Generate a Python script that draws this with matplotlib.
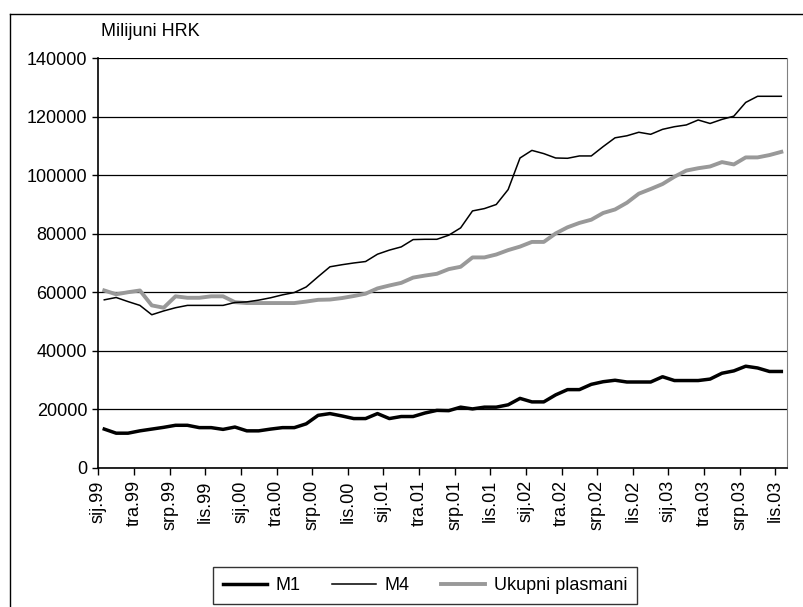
import matplotlib
matplotlib.use("Agg")
import matplotlib.pyplot as plt
from matplotlib.lines import Line2D

plt.rcParams["font.family"] = ["Liberation Sans", "DejaVu Sans"]

# ── Podaci (mjesečno, sij.99 – lis.03) ──────────────────────────────
m1 = [13200, 11800, 11800, 12600, 13200, 13800, 14500, 14500, 13700, 13700,
      13100, 13900, 12600, 12600, 13200, 13700, 13700, 15000, 17900, 18500,
      17700, 16800, 16800, 18500, 16800, 17500, 17500, 18700, 19600, 19500,
      20700, 20100, 20700, 20700, 21500, 23700, 22500, 22500, 24900, 26700,
      26700, 28500, 29400, 29900, 29300, 29300, 29300, 31100, 29800, 29800,
      29800, 30300, 32300, 33100, 34700, 34100, 32900, 32900]

m4 = [57400, 58200, 56800, 55500, 52300, 53600, 54700, 55500, 55500, 55500,
      55500, 56500, 56700, 57300, 58100, 59100, 59900, 61800, 65300, 68700,
      69400, 70000, 70500, 73000, 74400, 75500, 78000, 78100, 78100, 79500,
      82000, 87800, 88600, 90000, 95100, 105900, 108500, 107400, 105900, 105800,
      106600, 106600, 109800, 112800, 113500, 114700, 114000, 115700, 116600, 117200,
      118900, 117700, 119100, 120200, 124900, 127000, 127000, 127000]

plasmani = [60600, 59300, 60000, 60600, 55500, 54700, 58600, 58100, 58100, 58600,
            58600, 56600, 56300, 56300, 56300, 56300, 56300, 56800, 57400, 57500,
            58000, 58700, 59500, 61300, 62300, 63200, 65000, 65700, 66300, 67900,
            68700, 71900, 71900, 72900, 74400, 75600, 77200, 77200, 80100, 82200,
            83700, 84800, 87100, 88300, 90600, 93700, 95300, 97000, 99500, 101600,
            102400, 103000, 104500, 103700, 106100, 106100, 106900, 108000]

tick_labels = ["sij.99", "tra.99", "srp.99", "lis.99",
               "sij.00", "tra.00", "srp.00", "lis.00",
               "sij.01", "tra.01", "srp.01", "lis.01",
               "sij.02", "tra.02", "srp.02", "lis.02",
               "sij.03", "tra.03", "srp.03", "lis.03"]

x = list(range(len(m1)))

fig = plt.figure(figsize=(8.04, 6.07), dpi=100, facecolor="white")
ax = fig.add_axes([0.1223, 0.2295, 0.8569, 0.6745])

ax.plot(x, m1, color="black", lw=2.5, label="M1", zorder=3,
        solid_joinstyle="round")
ax.plot(x, m4, color="black", lw=1.1, label="M4", zorder=3)
ax.plot(x, plasmani, color="#999999", lw=2.8, label="Ukupni plasmani",
        zorder=2, solid_joinstyle="round")

# ── Osi ──────────────────────────────────────────────────────────────
ax.set_xlim(-0.5, len(x) - 0.5)
ax.set_ylim(0, 140000)
ax.set_yticks(range(0, 140001, 20000))
ax.set_yticklabels([str(v) for v in range(0, 140001, 20000)], fontsize=13)
ax.yaxis.grid(True, color="black", lw=0.9)
ax.set_axisbelow(True)

xt = [-0.5 + 3 * k for k in range(len(tick_labels))]
ax.set_xticks(xt)
ax.set_xticklabels(tick_labels, rotation=90, fontsize=13)
ax.tick_params(axis="x", length=5, width=1, direction="out", pad=4)
ax.tick_params(axis="y", length=4, width=1, direction="out", pad=4)

ax.spines["top"].set_visible(False)
ax.spines["right"].set_color("#808080")
ax.spines["left"].set_linewidth(1.2)
ax.spines["bottom"].set_linewidth(1.2)

# ── Naslov i legenda ────────────────────────────────────────────────
fig.text(101 / 804, 1 - 31 / 607, "Milijuni HRK", fontsize=13,
         ha="left", va="center")

leg = fig.legend(loc="center", bbox_to_anchor=(0.529, 0.0354), ncol=3,
                 fontsize=13, frameon=True, fancybox=False,
                 handlelength=2.4, handletextpad=0.5, columnspacing=1.75,
                 borderpad=0.55)
leg.get_frame().set_edgecolor("black")
leg.get_frame().set_linewidth(1.0)

# okvir grafikona (lijevo i gore)
fig.add_artist(Line2D([10.5 / 804, 10.5 / 804], [0, 1 - 13.5 / 607],
                      color="black", lw=1.0, transform=fig.transFigure))
fig.add_artist(Line2D([10.5 / 804, 1], [1 - 13.5 / 607, 1 - 13.5 / 607],
                      color="black", lw=1.0, transform=fig.transFigure))

fig.savefig("out.png", dpi=100, facecolor="white")
plt.close(fig)
